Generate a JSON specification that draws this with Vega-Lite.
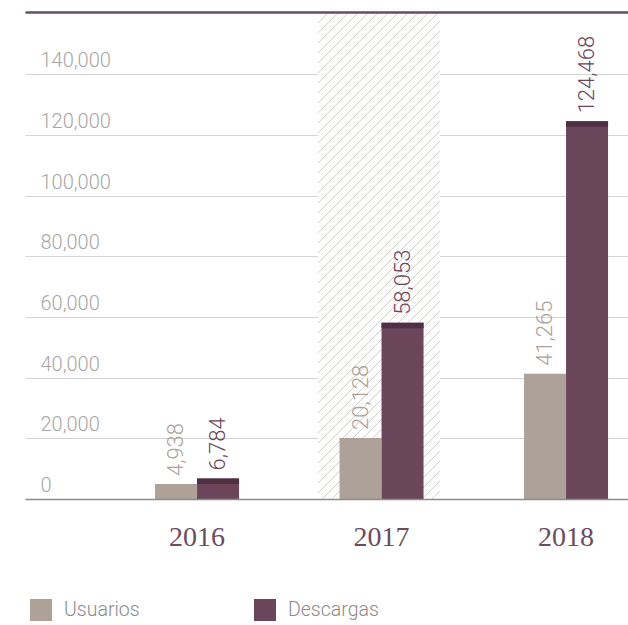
{
  "$schema": "https://vega.github.io/schema/vega-lite/v6.json",
  "width": 603,
  "height": 487,
  "autosize": "none",
  "padding": {"left": 25, "top": 12, "right": 0, "bottom": 126},
  "background": "#ffffff",
  "config": {"view": {"stroke": null}, "font": "Roboto"},
  "data": {
    "values": [
      {"year": "2016", "series": "Usuarios", "value": 4938},
      {"year": "2016", "series": "Descargas", "value": 6784},
      {"year": "2017", "series": "Usuarios", "value": 20128},
      {"year": "2017", "series": "Descargas", "value": 58053},
      {"year": "2018", "series": "Usuarios", "value": 41265},
      {"year": "2018", "series": "Descargas", "value": 124468}
    ]
  },
  "layer": [
    {
      "data": {"values": [{"year": "2017"}]},
      "mark": {
        "type": "rect",
        "stroke": null,
        "fill": {
          "gradient": "linear",
          "x1": 0, "y1": 0, "x2": 0.2948, "y2": 1.1766,
          "stops": [
            {"offset": 0, "color": "#ffffff"}, {"offset": 0.0016, "color": "#d0ccc8"}, {"offset": 0.0033, "color": "#ffffff"},
            {"offset": 0.01642, "color": "#ffffff"}, {"offset": 0.01802, "color": "#d0ccc8"}, {"offset": 0.01972, "color": "#ffffff"},
            {"offset": 0.03284, "color": "#ffffff"}, {"offset": 0.03444, "color": "#d0ccc8"}, {"offset": 0.03614, "color": "#ffffff"},
            {"offset": 0.04926, "color": "#ffffff"}, {"offset": 0.05086, "color": "#d0ccc8"}, {"offset": 0.05256, "color": "#ffffff"},
            {"offset": 0.06568, "color": "#ffffff"}, {"offset": 0.06728, "color": "#d0ccc8"}, {"offset": 0.06898, "color": "#ffffff"},
            {"offset": 0.0821, "color": "#ffffff"}, {"offset": 0.0837, "color": "#d0ccc8"}, {"offset": 0.0854, "color": "#ffffff"},
            {"offset": 0.09852, "color": "#ffffff"}, {"offset": 0.10012, "color": "#d0ccc8"}, {"offset": 0.10182, "color": "#ffffff"},
            {"offset": 0.11494, "color": "#ffffff"}, {"offset": 0.11654, "color": "#d0ccc8"}, {"offset": 0.11824, "color": "#ffffff"},
            {"offset": 0.13136, "color": "#ffffff"}, {"offset": 0.13296, "color": "#d0ccc8"}, {"offset": 0.13466, "color": "#ffffff"},
            {"offset": 0.14778, "color": "#ffffff"}, {"offset": 0.14938, "color": "#d0ccc8"}, {"offset": 0.15108, "color": "#ffffff"},
            {"offset": 0.1642, "color": "#ffffff"}, {"offset": 0.1658, "color": "#d0ccc8"}, {"offset": 0.1675, "color": "#ffffff"},
            {"offset": 0.18062, "color": "#ffffff"}, {"offset": 0.18222, "color": "#d0ccc8"}, {"offset": 0.18392, "color": "#ffffff"},
            {"offset": 0.19705, "color": "#ffffff"}, {"offset": 0.19865, "color": "#d0ccc8"}, {"offset": 0.20035, "color": "#ffffff"},
            {"offset": 0.21347, "color": "#ffffff"}, {"offset": 0.21507, "color": "#d0ccc8"}, {"offset": 0.21677, "color": "#ffffff"},
            {"offset": 0.22989, "color": "#ffffff"}, {"offset": 0.23149, "color": "#d0ccc8"}, {"offset": 0.23319, "color": "#ffffff"},
            {"offset": 0.24631, "color": "#ffffff"}, {"offset": 0.24791, "color": "#d0ccc8"}, {"offset": 0.24961, "color": "#ffffff"},
            {"offset": 0.26273, "color": "#ffffff"}, {"offset": 0.26433, "color": "#d0ccc8"}, {"offset": 0.26603, "color": "#ffffff"},
            {"offset": 0.27915, "color": "#ffffff"}, {"offset": 0.28075, "color": "#d0ccc8"}, {"offset": 0.28245, "color": "#ffffff"},
            {"offset": 0.29557, "color": "#ffffff"}, {"offset": 0.29717, "color": "#d0ccc8"}, {"offset": 0.29887, "color": "#ffffff"},
            {"offset": 0.31199, "color": "#ffffff"}, {"offset": 0.31359, "color": "#d0ccc8"}, {"offset": 0.31529, "color": "#ffffff"},
            {"offset": 0.32841, "color": "#ffffff"}, {"offset": 0.33001, "color": "#d0ccc8"}, {"offset": 0.33171, "color": "#ffffff"},
            {"offset": 0.34483, "color": "#ffffff"}, {"offset": 0.34643, "color": "#d0ccc8"}, {"offset": 0.34813, "color": "#ffffff"},
            {"offset": 0.36125, "color": "#ffffff"}, {"offset": 0.36285, "color": "#d0ccc8"}, {"offset": 0.36455, "color": "#ffffff"},
            {"offset": 0.37767, "color": "#ffffff"}, {"offset": 0.37927, "color": "#d0ccc8"}, {"offset": 0.38097, "color": "#ffffff"},
            {"offset": 0.39409, "color": "#ffffff"}, {"offset": 0.39569, "color": "#d0ccc8"}, {"offset": 0.39739, "color": "#ffffff"},
            {"offset": 0.41051, "color": "#ffffff"}, {"offset": 0.41211, "color": "#d0ccc8"}, {"offset": 0.41381, "color": "#ffffff"},
            {"offset": 0.42693, "color": "#ffffff"}, {"offset": 0.42853, "color": "#d0ccc8"}, {"offset": 0.43023, "color": "#ffffff"},
            {"offset": 0.44335, "color": "#ffffff"}, {"offset": 0.44495, "color": "#d0ccc8"}, {"offset": 0.44665, "color": "#ffffff"},
            {"offset": 0.45977, "color": "#ffffff"}, {"offset": 0.46137, "color": "#d0ccc8"}, {"offset": 0.46307, "color": "#ffffff"},
            {"offset": 0.47619, "color": "#ffffff"}, {"offset": 0.47779, "color": "#d0ccc8"}, {"offset": 0.47949, "color": "#ffffff"},
            {"offset": 0.49261, "color": "#ffffff"}, {"offset": 0.49421, "color": "#d0ccc8"}, {"offset": 0.49591, "color": "#ffffff"},
            {"offset": 0.50903, "color": "#ffffff"}, {"offset": 0.51063, "color": "#d0ccc8"}, {"offset": 0.51233, "color": "#ffffff"},
            {"offset": 0.52545, "color": "#ffffff"}, {"offset": 0.52705, "color": "#d0ccc8"}, {"offset": 0.52875, "color": "#ffffff"},
            {"offset": 0.54187, "color": "#ffffff"}, {"offset": 0.54347, "color": "#d0ccc8"}, {"offset": 0.54517, "color": "#ffffff"},
            {"offset": 0.55829, "color": "#ffffff"}, {"offset": 0.55989, "color": "#d0ccc8"}, {"offset": 0.56159, "color": "#ffffff"},
            {"offset": 0.57471, "color": "#ffffff"}, {"offset": 0.57631, "color": "#d0ccc8"}, {"offset": 0.57801, "color": "#ffffff"},
            {"offset": 0.59113, "color": "#ffffff"}, {"offset": 0.59273, "color": "#d0ccc8"}, {"offset": 0.59443, "color": "#ffffff"},
            {"offset": 0.60755, "color": "#ffffff"}, {"offset": 0.60915, "color": "#d0ccc8"}, {"offset": 0.61085, "color": "#ffffff"},
            {"offset": 0.62397, "color": "#ffffff"}, {"offset": 0.62557, "color": "#d0ccc8"}, {"offset": 0.62727, "color": "#ffffff"},
            {"offset": 0.64039, "color": "#ffffff"}, {"offset": 0.64199, "color": "#d0ccc8"}, {"offset": 0.64369, "color": "#ffffff"},
            {"offset": 0.65682, "color": "#ffffff"}, {"offset": 0.65842, "color": "#d0ccc8"}, {"offset": 0.66012, "color": "#ffffff"},
            {"offset": 0.67324, "color": "#ffffff"}, {"offset": 0.67484, "color": "#d0ccc8"}, {"offset": 0.67654, "color": "#ffffff"},
            {"offset": 0.68966, "color": "#ffffff"}, {"offset": 0.69126, "color": "#d0ccc8"}, {"offset": 0.69296, "color": "#ffffff"},
            {"offset": 0.70608, "color": "#ffffff"}, {"offset": 0.70768, "color": "#d0ccc8"}, {"offset": 0.70938, "color": "#ffffff"},
            {"offset": 0.7225, "color": "#ffffff"}, {"offset": 0.7241, "color": "#d0ccc8"}, {"offset": 0.7258, "color": "#ffffff"},
            {"offset": 0.73892, "color": "#ffffff"}, {"offset": 0.74052, "color": "#d0ccc8"}, {"offset": 0.74222, "color": "#ffffff"},
            {"offset": 0.75534, "color": "#ffffff"}, {"offset": 0.75694, "color": "#d0ccc8"}, {"offset": 0.75864, "color": "#ffffff"},
            {"offset": 0.77176, "color": "#ffffff"}, {"offset": 0.77336, "color": "#d0ccc8"}, {"offset": 0.77506, "color": "#ffffff"},
            {"offset": 0.78818, "color": "#ffffff"}, {"offset": 0.78978, "color": "#d0ccc8"}, {"offset": 0.79148, "color": "#ffffff"},
            {"offset": 0.8046, "color": "#ffffff"}, {"offset": 0.8062, "color": "#d0ccc8"}, {"offset": 0.8079, "color": "#ffffff"},
            {"offset": 0.82102, "color": "#ffffff"}, {"offset": 0.82262, "color": "#d0ccc8"}, {"offset": 0.82432, "color": "#ffffff"},
            {"offset": 0.83744, "color": "#ffffff"}, {"offset": 0.83904, "color": "#d0ccc8"}, {"offset": 0.84074, "color": "#ffffff"},
            {"offset": 0.85386, "color": "#ffffff"}, {"offset": 0.85546, "color": "#d0ccc8"}, {"offset": 0.85716, "color": "#ffffff"},
            {"offset": 0.87028, "color": "#ffffff"}, {"offset": 0.87188, "color": "#d0ccc8"}, {"offset": 0.87358, "color": "#ffffff"},
            {"offset": 0.8867, "color": "#ffffff"}, {"offset": 0.8883, "color": "#d0ccc8"}, {"offset": 0.89, "color": "#ffffff"},
            {"offset": 0.90312, "color": "#ffffff"}, {"offset": 0.90472, "color": "#d0ccc8"}, {"offset": 0.90642, "color": "#ffffff"},
            {"offset": 0.91954, "color": "#ffffff"}, {"offset": 0.92114, "color": "#d0ccc8"}, {"offset": 0.92284, "color": "#ffffff"},
            {"offset": 0.93596, "color": "#ffffff"}, {"offset": 0.93756, "color": "#d0ccc8"}, {"offset": 0.93926, "color": "#ffffff"},
            {"offset": 0.95238, "color": "#ffffff"}, {"offset": 0.95398, "color": "#d0ccc8"}, {"offset": 0.95568, "color": "#ffffff"},
            {"offset": 0.9688, "color": "#ffffff"}, {"offset": 0.9704, "color": "#d0ccc8"}, {"offset": 0.9721, "color": "#ffffff"},
            {"offset": 0.98522, "color": "#ffffff"}, {"offset": 0.98682, "color": "#d0ccc8"}, {"offset": 0.98852, "color": "#ffffff"},
            {"offset": 1, "color": "#ffffff"}
          ]
        }
      },
      "encoding": {
        "x": {
          "field": "year", "type": "nominal",
          "scale": {"type": "band", "domain": ["2016", "2017", "2018"], "paddingInner": 0.3388, "paddingOuter": 0.3035, "align": 0.969},
          "axis": {"orient": "top", "title": null, "labels": false, "ticks": false, "tickSize": 0, "grid": false, "domain": true, "domainColor": "#6b4c5e", "domainWidth": 2.5, "zindex": 1}
        },
        "y": {
          "datum": 160500, "type": "quantitative",
          "scale": {"domain": [0, 160500], "nice": false, "zero": true},
          "axis": {"title": null, "values": [0, 20000, 40000, 60000, 80000, 100000, 120000, 140000], "labelExpr": "format(datum.value, ',')", "domain": false, "ticks": false, "tickSize": 0, "grid": true, "gridColor": "#d4d4d4", "gridWidth": 1, "labelAlign": "left", "labelPadding": -15, "labelBaseline": "alphabetic", "labelOffset": -7.5, "labelFont": "Roboto", "labelFontWeight": 300, "labelFontSize": 20, "labelColor": "#a6a6a6", "zindex": 0}
        },
        "y2": {"datum": 0}
      }
    },
    {
      "encoding": {
        "x": {
          "field": "year", "type": "nominal",
          "scale": {"type": "band", "domain": ["2016", "2017", "2018"], "paddingInner": 0.5447, "paddingOuter": 0.4065, "align": 0.867},
          "axis": {"orient": "bottom", "title": null, "labelAngle": 0, "labelFont": "Liberation Serif", "labelFontSize": 28, "labelColor": "#6b4c5e", "labelBaseline": "alphabetic", "labelPadding": 46, "ticks": false, "tickSize": 0, "domain": true, "domainColor": "#8c8c8c", "domainWidth": 1.5, "grid": false, "zindex": 1}
        },
        "xOffset": {"field": "series", "type": "nominal", "scale": {"domain": ["Usuarios", "Descargas"], "paddingInner": 0, "paddingOuter": 0}},
        "y": {
          "field": "value", "type": "quantitative", "stack": null,
          "scale": {"domain": [0, 160500], "nice": false, "zero": true},
          "axis": {"title": null, "values": [0, 20000, 40000, 60000, 80000, 100000, 120000, 140000], "labelExpr": "format(datum.value, ',')", "domain": false, "ticks": false, "tickSize": 0, "grid": true, "gridColor": "#d4d4d4", "gridWidth": 1, "labelAlign": "left", "labelPadding": -15, "labelBaseline": "alphabetic", "labelOffset": -7.5, "labelFont": "Roboto", "labelFontWeight": 300, "labelFontSize": 20, "labelColor": "#a6a6a6", "zindex": 0}
        }
      },
      "layer": [
        {
          "mark": {"type": "bar"},
          "encoding": {
            "color": {
              "field": "series", "type": "nominal",
              "scale": {"domain": ["Usuarios", "Descargas"], "range": ["#ada198", "#6b4559"]},
              "legend": {"title": null, "orient": "none", "legendX": 5, "legendY": 587, "direction": "horizontal", "symbolType": "square", "symbolSize": 484, "symbolStrokeWidth": 0, "labelFontSize": 19.5, "labelColor": "#8a8a8a", "labelFont": "Roboto", "labelFontWeight": 300, "labelOffset": 12, "columnPadding": 114, "padding": 0}
            }
          }
        },
        {
          "transform": [{"filter": "datum.series === 'Descargas'"}],
          "mark": {"type": "bar", "color": "#4f2f43", "y2Offset": 5.5},
          "encoding": {
            "y2": {"field": "value"}
          }
        },
        {
          "mark": {"type": "text", "angle": 270, "align": "left", "baseline": "middle", "dx": 8, "fontSize": 22, "font": "Roboto", "fontWeight": 300},
          "encoding": {
            "text": {"field": "value", "type": "quantitative", "format": ","},
            "color": {"field": "series", "type": "nominal"}
          }
        }
      ]
    }
  ],
  "resolve": {"scale": {"x": "independent"}, "axis": {"x": "independent"}}
}
